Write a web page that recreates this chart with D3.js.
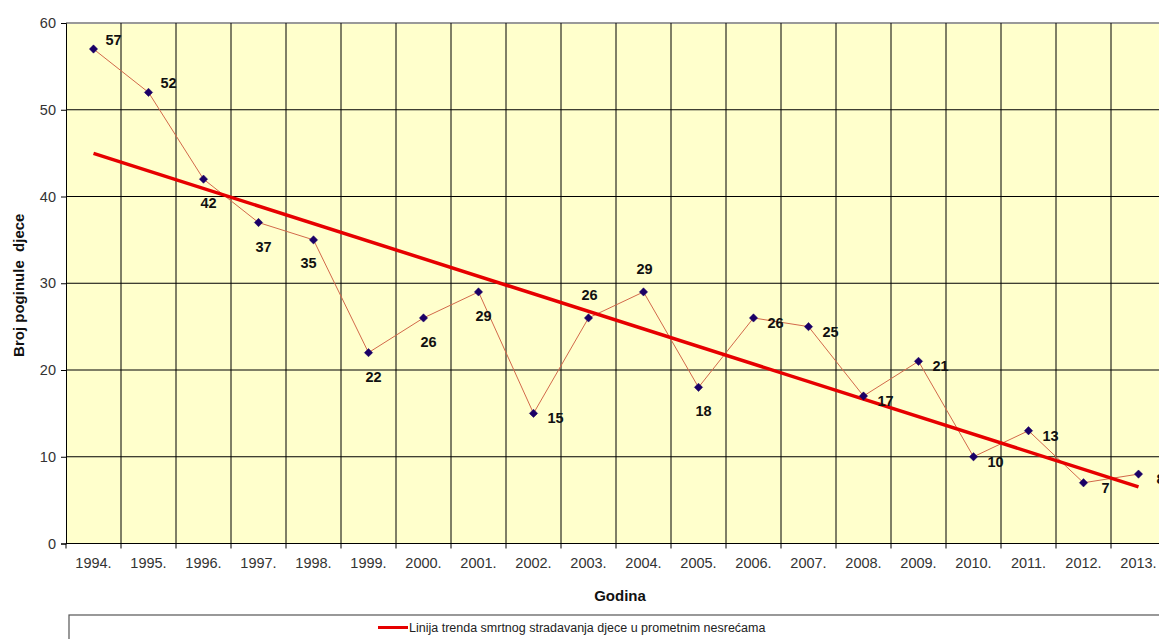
<!DOCTYPE html>
<html>
<head>
<meta charset="utf-8">
<script src="https://cdn.jsdelivr.net/npm/d3@7"></script>
<style>
  body { margin: 0; background: #fff; }
  text { font-family: 'Liberation Sans', Arial, sans-serif; }
</style>
</head>
<body>
<div id="chart"></div>
<script>
// godine i broj poginule djece
const years  = ['1994.', '1995.', '1996.', '1997.', '1998.', '1999.', '2000.', '2001.', '2002.', '2003.',
                '2004.', '2005.', '2006.', '2007.', '2008.', '2009.', '2010.', '2011.', '2012.', '2013.'];
const deaths = [57, 52, 42, 37, 35, 22, 26, 29, 15, 26, 29, 18, 26, 25, 17, 21, 10, 13, 7, 8];
const yTicks = [0, 10, 20, 30, 40, 50, 60];
// where Excel put each data label
const labelSide = ['ar', 'ar', 'b', 'b', 'bl', 'b', 'b', 'b', 'r', 'a',
                   'a', 'b', 'r', 'r', 'r', 'r', 'r', 'r', 'r', 'r'];
const legendText = 'Linija trenda smrtnog stradavanja djece u prometnim nesrećama';

const width  = 1159;
const height = 639;
const margin = { top: 23, left: 66 };
const plotW  = 1100;
const plotH  = 520.5;

const svg = d3.select( '#chart' )
              .append( 'svg' )
              .attr( 'width', width )
              .attr( 'height', height );

const x = d3.scaleBand()
            .domain( years )
            .range( [0, plotW] );

const y = d3.scaleLinear()
            .domain( [0, 60] )
            .range( [plotH, 0] );

const g = svg.append( 'g' )
             .attr( 'transform', `translate(${margin.left},${margin.top})` );

g.append( 'rect' )
 .attr( 'width', plotW )
 .attr( 'height', plotH )
 .attr( 'fill', '#ffffcc' );

// horizontal grid
g.selectAll( '.hgrid' )
 .data( yTicks.filter( d => d > 0 ) )
 .enter()
 .append( 'line' )
 .attr( 'x1', 0 )
 .attr( 'x2', plotW )
 .attr( 'y1', d => y( d ) )
 .attr( 'y2', d => y( d ) )
 .attr( 'stroke', d => d === 60 ? '#999' : '#000' )
 .attr( 'stroke-width', d => d === 60 ? 2 : 1 );

// vertical grid on category borders
g.selectAll( '.vgrid' )
 .data( years.slice( 1 ) )
 .enter()
 .append( 'line' )
 .attr( 'x1', d => x( d ) )
 .attr( 'x2', d => x( d ) )
 .attr( 'y1', 0 )
 .attr( 'y2', plotH + 5 )
 .attr( 'stroke', '#000' )
 .attr( 'stroke-width', 1 );

// y axis
const yAxis = g.append( 'g' )
               .call( d3.axisLeft( y ).tickValues( yTicks ).tickSize( 5 ).tickPadding( 5 ) );
yAxis.select( '.domain' ).attr( 'stroke', '#000' );
yAxis.selectAll( 'text' )
     .attr( 'font-size', '14.5px' )
     .attr( 'fill', '#333' );

// x axis
g.append( 'line' )
 .attr( 'x1', 0 )
 .attr( 'x2', plotW )
 .attr( 'y1', plotH )
 .attr( 'y2', plotH )
 .attr( 'stroke', '#000' );
g.append( 'line' )
 .attr( 'x1', 0 )
 .attr( 'x2', 0 )
 .attr( 'y1', plotH )
 .attr( 'y2', plotH + 5 )
 .attr( 'stroke', '#000' );

g.selectAll( '.xlab' )
 .data( years )
 .enter()
 .append( 'text' )
 .attr( 'x', d => x( d ) + x.bandwidth() / 2 )
 .attr( 'y', plotH + 24 )
 .attr( 'text-anchor', 'middle' )
 .attr( 'font-size', '14.5px' )
 .attr( 'fill', '#333' )
 .text( d => d );

// data line
const cx = ( d, i ) => x( years[i] ) + x.bandwidth() / 2;

const line = d3.line()
               .x( cx )
               .y( d => y( d ) );

g.append( 'path' )
 .datum( deaths )
 .attr( 'd', line )
 .attr( 'fill', 'none' )
 .attr( 'stroke', '#d2694a' )
 .attr( 'stroke-width', 1 );

// linear trend (least squares)
const n    = deaths.length;
const mx   = d3.mean( d3.range( n ) );
const my   = d3.mean( deaths );
const sxy  = d3.sum( deaths, ( d, i ) => ( i - mx ) * ( d - my ) );
const sxx  = d3.sum( d3.range( n ), i => ( i - mx ) * ( i - mx ) );
const slope = sxy / sxx;
const icpt  = my - slope * mx;
const trend = d3.range( n ).map( i => icpt + slope * i );

g.append( 'path' )
 .datum( [trend[0], trend[n - 1]] )
 .attr( 'd', d3.line()
               .x( ( d, i ) => cx( d, i === 0 ? 0 : n - 1 ) )
               .y( d => y( d ) ) )
 .attr( 'fill', 'none' )
 .attr( 'stroke', '#e60000' )
 .attr( 'stroke-width', 3.5 );

// markers
g.selectAll( '.marker' )
 .data( deaths )
 .enter()
 .append( 'path' )
 .attr( 'd', d3.symbol( d3.symbolDiamond2, 44 ) )
 .attr( 'transform', ( d, i ) => `translate(${cx( d, i )},${y( d )})` )
 .attr( 'fill', '#1a0066' )
 .attr( 'stroke', '#1a0066' )
 .attr( 'stroke-width', 0.5 );

// data labels
const offs = {
	ar : [20, -9],
	a  : [1, -23],
	b  : [5, 24],
	bl : [-5, 23],
	r  : [22, 5]
};

g.selectAll( '.dlab' )
 .data( deaths )
 .enter()
 .append( 'text' )
 .attr( 'x', ( d, i ) => cx( d, i ) + offs[labelSide[i]][0] )
 .attr( 'y', ( d, i ) => y( d ) + offs[labelSide[i]][1] + 5 )
 .attr( 'text-anchor', 'middle' )
 .attr( 'font-size', '14.5px' )
 .attr( 'font-weight', 'bold' )
 .attr( 'fill', '#111' )
 .text( d => d );

// axis titles
svg.append( 'text' )
   .attr( 'transform', `translate(24,${margin.top + plotH / 2 + 2}) rotate(-90)` )
   .attr( 'text-anchor', 'middle' )
   .attr( 'font-size', '15px' )
   .attr( 'font-weight', 'bold' )
   .attr( 'fill', '#111' )
   .attr( 'xml:space', 'preserve' )
   .text( 'Broj poginule  djece' );

svg.append( 'text' )
   .attr( 'x', 620 )
   .attr( 'y', 601 )
   .attr( 'text-anchor', 'middle' )
   .attr( 'font-size', '15px' )
   .attr( 'font-weight', 'bold' )
   .attr( 'fill', '#111' )
   .text( 'Godina' );

// legend
svg.append( 'rect' )
   .attr( 'x', 69 )
   .attr( 'y', 615 )
   .attr( 'width', 1120 )
   .attr( 'height', 60 )
   .attr( 'fill', '#fff' )
   .attr( 'stroke', '#555' )
   .attr( 'stroke-width', 1.2 );

svg.append( 'line' )
   .attr( 'x1', 378 )
   .attr( 'x2', 408 )
   .attr( 'y1', 627.5 )
   .attr( 'y2', 627.5 )
   .attr( 'stroke', '#e60000' )
   .attr( 'stroke-width', 3 );

svg.append( 'text' )
   .attr( 'x', 409 )
   .attr( 'y', 632 )
   .attr( 'font-size', '12.5px' )
   .attr( 'fill', '#222' )
   .text( legendText );
</script>
</body>
</html>
